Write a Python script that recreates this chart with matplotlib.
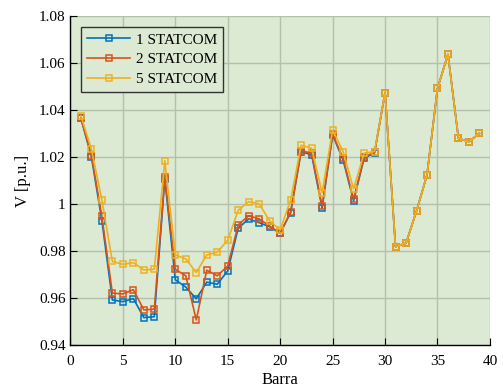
import matplotlib.pyplot as plt

barra = list(range(1, 40))

v_1statcom = [1.0365, 1.0201, 0.9929, 0.9591, 0.9584, 0.9597, 0.9516, 0.9520, 1.0106,
              0.9677, 0.9646, 0.9596, 0.9667, 0.9658, 0.9715, 0.9897, 0.9936, 0.9920,
              0.9903, 0.9875, 0.9963, 1.0223, 1.0209, 0.9982, 1.0294, 1.0187, 1.0013,
              1.0194, 1.0218, 1.0474, 0.9818, 0.9833, 0.9970, 1.0123, 1.0492, 1.0637,
              1.0279, 1.0265, 1.0301]
v_2statcom = [1.0365, 1.0206, 0.9947, 0.9620, 0.9617, 0.9635, 0.9549, 0.9552, 1.0114,
              0.9722, 0.9694, 0.9506, 0.9718, 0.9694, 0.9736, 0.9911, 0.9950, 0.9936,
              0.9906, 0.9875, 0.9967, 1.0227, 1.0216, 0.9991, 1.0297, 1.0194, 1.0020,
              1.0199, 1.0220, 1.0474, 0.9818, 0.9833, 0.9970, 1.0123, 1.0492, 1.0637,
              1.0279, 1.0265, 1.0301]
v_5statcom = [1.0376, 1.0233, 1.0017, 0.9755, 0.9743, 0.9750, 0.9719, 0.9722, 1.0184,
              0.9783, 0.9766, 0.9708, 0.9783, 0.9794, 0.9846, 0.9973, 1.0010, 1.0000,
              0.9928, 0.9889, 1.0017, 1.0250, 1.0237, 1.0048, 1.0315, 1.0223, 1.0064,
              1.0216, 1.0223, 1.0474, 0.9818, 0.9833, 0.9970, 1.0123, 1.0492, 1.0637,
              1.0279, 1.0265, 1.0301]

plt.rcParams['font.family'] = ['Liberation Serif', 'DejaVu Serif']

fig = plt.figure(figsize=(5.03, 3.91), dpi=100)
ax = fig.add_axes([0.14, 0.118, 0.834, 0.841])
ax.set_facecolor('#dcead4')

kw = dict(marker='s', markerfacecolor='none', markersize=5, markeredgewidth=1.1, linewidth=1.2)
ax.plot(barra, v_1statcom, color='#0072BD', label='1 STATCOM', **kw)
ax.plot(barra, v_2statcom, color='#D95319', label='2 STATCOM', **kw)
ax.plot(barra, v_5statcom, color='#EDB120', label='5 STATCOM', **kw)

ax.set_xlim(0, 40)
ax.set_ylim(0.94, 1.08)
ax.set_xticks(range(0, 41, 5))
ax.set_yticks([0.94, 0.96, 0.98, 1.0, 1.02, 1.04, 1.06, 1.08])
ax.set_yticklabels(['0.94', '0.96', '0.98', '1', '1.02', '1.04', '1.06', '1.08'])
ax.tick_params(direction='in', labelsize=11, length=5, width=0.8)
ax.tick_params(axis='x', pad=7)
ax.grid(True, color='#b3c0ad', linewidth=1.0)
ax.set_axisbelow(True)
for s in ['top', 'right']:
    ax.spines[s].set_visible(False)
for s in ['left', 'bottom']:
    ax.spines[s].set_linewidth(1.0)

ax.set_xlabel('Barra', fontsize=12, labelpad=3)
ax.set_ylabel('V [p.u.]', fontsize=12, labelpad=6)

leg = ax.legend(loc='upper left', fontsize=11, fancybox=False, framealpha=1,
                facecolor='#dcead4', edgecolor='#333333', handlelength=2.8,
                borderaxespad=0.7, labelspacing=0.4, borderpad=0.4, handletextpad=0.4,
                markerscale=0.9)
leg.get_frame().set_linewidth(1.0)

plt.savefig('out.png', dpi=100)
